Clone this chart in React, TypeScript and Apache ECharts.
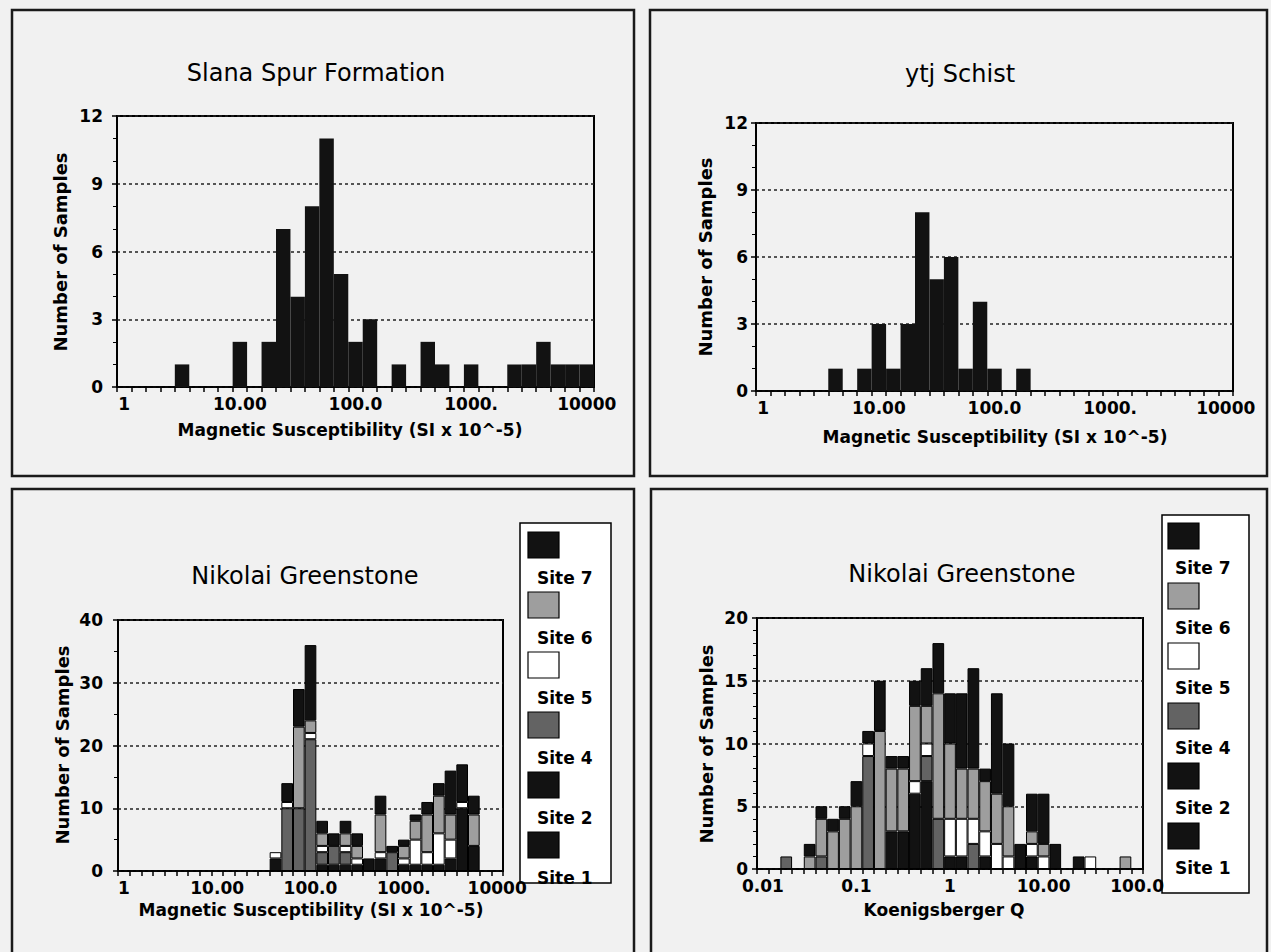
import React, { useEffect, useRef } from 'react';
import * as echarts from 'echarts';

// ---------- data ----------
// 33 histogram bins, 8 per decade (log-spaced), tick labels every 8th bin
const suscTickLabels = ['1', '10.00', '100.0', '1000.', '10000'];
const qTickLabels = ['0.01', '0.1', '1', '10.00', '100.0'];
const BINS_PER_DECADE = 8;
const BIN_COUNT = 33;

const slanaCounts = [0, 0, 0, 0, 1, 0, 0, 0, 2, 0, 2, 7, 4, 8, 11, 5, 2, 3, 0, 1, 0, 2, 1, 0, 1, 0, 0, 1, 1, 2, 1, 1, 1];
const ytjCounts = [0, 0, 0, 0, 0, 1, 0, 1, 3, 1, 3, 8, 5, 6, 1, 4, 1, 0, 1, 0, 0, 0, 0, 0, 0, 0, 0, 0, 0, 0, 0, 0, 0];

const siteNames = ['Site 1', 'Site 2', 'Site 4', 'Site 5', 'Site 6', 'Site 7'];
const siteColors = ['#121212', '#121212', '#636363', '#ffffff', '#9e9e9e', '#121212'];

// Nikolai Greenstone - magnetic susceptibility, stacked by site
const nikSuscSite1 = [0, 0, 0, 0, 0, 0, 0, 0, 0, 0, 0, 0, 0, 2, 0, 0, 0, 1, 1, 1, 1, 0, 2, 0, 1, 1, 1, 1, 2, 0, 4, 0, 0];
const nikSuscSite2 = [0, 0, 0, 0, 0, 0, 0, 0, 0, 0, 0, 0, 0, 0, 0, 0, 0, 0, 0, 0, 0, 2, 0, 0, 0, 0, 0, 0, 0, 10, 0, 0, 0];
const nikSuscSite4 = [0, 0, 0, 0, 0, 0, 0, 0, 0, 0, 0, 0, 0, 0, 10, 10, 21, 2, 3, 2, 0, 0, 0, 3, 0, 0, 0, 0, 0, 0, 0, 0, 0];
const nikSuscSite5 = [0, 0, 0, 0, 0, 0, 0, 0, 0, 0, 0, 0, 0, 1, 1, 0, 1, 1, 0, 1, 1, 0, 1, 0, 1, 4, 2, 5, 3, 1, 0, 0, 0];
const nikSuscSite6 = [0, 0, 0, 0, 0, 0, 0, 0, 0, 0, 0, 0, 0, 0, 0, 13, 2, 2, 0, 2, 2, 0, 6, 0, 2, 3, 6, 6, 4, 0, 5, 0, 0];
const nikSuscSite7 = [0, 0, 0, 0, 0, 0, 0, 0, 0, 0, 0, 0, 0, 0, 3, 6, 12, 2, 2, 2, 2, 0, 3, 1, 1, 1, 2, 2, 7, 6, 3, 0, 0];

// Nikolai Greenstone - Koenigsberger Q, stacked by site
const nikQSite1 = [0, 0, 0, 0, 0, 0, 0, 0, 0, 0, 0, 3, 3, 6, 7, 0, 1, 1, 0, 1, 0, 0, 0, 1, 0, 0, 0, 1, 0, 0, 0, 0, 0];
const nikQSite2 = [0, 0, 0, 0, 0, 0, 0, 0, 0, 0, 0, 0, 0, 0, 0, 0, 0, 0, 0, 0, 0, 0, 2, 0, 0, 2, 0, 0, 0, 0, 0, 0, 0];
const nikQSite4 = [0, 0, 1, 0, 0, 1, 0, 0, 0, 9, 0, 0, 0, 0, 2, 4, 0, 0, 2, 0, 0, 0, 0, 0, 0, 0, 0, 0, 0, 0, 0, 0, 0];
const nikQSite5 = [0, 0, 0, 0, 0, 0, 0, 0, 0, 1, 0, 0, 0, 1, 1, 0, 3, 3, 2, 2, 2, 1, 0, 1, 1, 0, 0, 0, 1, 0, 0, 0, 0];
const nikQSite6 = [0, 0, 0, 0, 1, 3, 3, 4, 5, 0, 11, 5, 5, 6, 3, 10, 6, 4, 4, 4, 4, 4, 0, 1, 1, 0, 0, 0, 0, 0, 0, 1, 0];
const nikQSite7 = [0, 0, 0, 0, 1, 1, 1, 1, 2, 1, 4, 1, 1, 2, 3, 4, 4, 6, 8, 1, 8, 5, 0, 3, 4, 0, 0, 0, 0, 0, 0, 0, 0];

const nikSuscSites = [nikSuscSite1, nikSuscSite2, nikSuscSite4, nikSuscSite5, nikSuscSite6, nikSuscSite7];
const nikQSites = [nikQSite1, nikQSite2, nikQSite4, nikQSite5, nikQSite6, nikQSite7];

const titles = ['Slana Spur Formation', 'ytj Schist', 'Nikolai Greenstone', 'Nikolai Greenstone'];
const xNames = [
  'Magnetic Susceptibility (SI x 10^-5)',
  'Magnetic Susceptibility (SI x 10^-5)',
  'Magnetic Susceptibility (SI x 10^-5)',
  'Koenigsberger Q',
];
const yName = 'Number of Samples';

// ---------- helpers ----------
const FONT = '"DejaVu Sans", "Liberation Sans", Arial, sans-serif';

function binCategories(ticks: string[]): string[] {
  return Array.from({ length: BIN_COUNT }, (_, i) =>
    i % BINS_PER_DECADE === 0 ? ticks[i / BINS_PER_DECADE] : 'bin' + i
  );
}

function xAxis(gridIndex: number, ticks: string[]) {
  return {
    type: 'category',
    gridIndex,
    data: binCategories(ticks),
    boundaryGap: true,
    axisLine: { lineStyle: { color: '#000', width: 1.5 } },
    axisTick: { show: true, interval: 0, length: 5, lineStyle: { color: '#000', width: 1.5 } },
    axisLabel: {
      interval: BINS_PER_DECADE - 1,
      margin: 8,
      color: '#000',
      fontFamily: FONT,
      fontWeight: 'bold',
      fontSize: 17,
    },
    splitLine: { show: false },
  };
}

function yAxis(gridIndex: number, max: number, interval: number, minorSplit: number, margin: number) {
  return {
    type: 'value',
    gridIndex,
    min: 0,
    max,
    interval,
    axisLine: { show: true, lineStyle: { color: '#000', width: 1.5 } },
    axisTick: { show: true, length: 5, lineStyle: { color: '#000', width: 1.5 } },
    minorTick: { show: true, splitNumber: minorSplit, length: 4, lineStyle: { color: '#000', width: 1 } },
    axisLabel: { margin, color: '#000', fontFamily: FONT, fontWeight: 'bold', fontSize: 17 },
    splitLine: { show: true, lineStyle: { color: '#222', type: [3, 3], width: 1.5 } },
  };
}

function text(t: string, x: number, y: number, font: string, rotation = 0) {
  return {
    type: 'text',
    x,
    y,
    rotation,
    style: { text: t, fill: '#000', font, textAlign: 'center', textVerticalAlign: 'middle' },
  };
}

function panel(x: number, y: number, w: number, h: number) {
  return {
    type: 'rect',
    shape: { x, y, width: w, height: h },
    style: { fill: 'none', stroke: '#1a1a1a', lineWidth: 2.5 },
    silent: true,
  };
}

function legendBox(x: number, y: number, w: number, h: number, iconX: number, iconY: number, textX: number, textY: number) {
  const els: any[] = [
    { type: 'rect', shape: { x, y, width: w, height: h }, style: { fill: '#fff', stroke: '#000', lineWidth: 1.5 } },
  ];
  // top to bottom: reversed site order
  const order = [5, 4, 3, 2, 1, 0];
  order.forEach((si, k) => {
    els.push({
      type: 'rect',
      shape: { x: iconX, y: iconY + k * 60, width: 31, height: 26 },
      style: { fill: siteColors[si], stroke: '#000', lineWidth: 1.2 },
    });
    els.push({
      type: 'text',
      x: textX,
      y: textY + k * 60,
      style: {
        text: siteNames[si],
        fill: '#000',
        font: 'bold 17px ' + FONT,
        textAlign: 'left',
        textVerticalAlign: 'middle',
      },
    });
  });
  return els;
}

function stackedSeries(sites: number[][], axisIndex: number, stack: string) {
  return sites.map((arr, i) => ({
    type: 'bar',
    name: siteNames[i],
    xAxisIndex: axisIndex,
    yAxisIndex: axisIndex,
    stack,
    barCategoryGap: '0%',
    data: arr.map((v) => (v === 0 ? '-' : v)),
    itemStyle: { color: siteColors[i], borderColor: '#000', borderWidth: 1 },
  }));
}

export default function App() {
  const ref = useRef<HTMLDivElement>(null);

  useEffect(() => {
    if (!ref.current) return;
    const chart = echarts.init(ref.current, undefined, { renderer: 'svg' });

    const titleFont = '24px ' + FONT;
    const nameFont = 'bold 17px ' + FONT;
    const yNameFont = 'bold 18px ' + FONT;

    const option: any = {
      animation: false,
      backgroundColor: '#f1f1f1',
      grid: [
        { left: 117, top: 116, width: 477, height: 271, show: true, borderColor: '#000', borderWidth: 2 },
        { left: 756, top: 123, width: 477, height: 268, show: true, borderColor: '#000', borderWidth: 2 },
        { left: 118, top: 620, width: 385, height: 251, show: true, borderColor: '#000', borderWidth: 2 },
        { left: 757, top: 618, width: 386, height: 251, show: true, borderColor: '#000', borderWidth: 2 },
      ],
      xAxis: [
        xAxis(0, suscTickLabels),
        xAxis(1, suscTickLabels),
        xAxis(2, suscTickLabels),
        xAxis(3, qTickLabels),
      ],
      yAxis: [
        yAxis(0, 12, 3, 3, 14),
        yAxis(1, 12, 3, 3, 8),
        yAxis(2, 40, 10, 2, 15),
        yAxis(3, 20, 5, 5, 9),
      ],
      series: [
        {
          type: 'bar',
          name: titles[0],
          xAxisIndex: 0,
          yAxisIndex: 0,
          barCategoryGap: '0%',
          data: slanaCounts,
          itemStyle: { color: '#121212' },
        },
        {
          type: 'bar',
          name: titles[1],
          xAxisIndex: 1,
          yAxisIndex: 1,
          barCategoryGap: '0%',
          data: ytjCounts,
          itemStyle: { color: '#121212' },
        },
        ...stackedSeries(nikSuscSites, 2, 'susc'),
        ...stackedSeries(nikQSites, 3, 'q'),
      ],
      graphic: [
        panel(12, 10, 622, 466),
        panel(650, 10, 617, 466),
        panel(12, 489, 622, 470),
        panel(651, 489, 616, 470),
        text(titles[0], 316, 73, titleFont),
        text(titles[1], 960, 74, titleFont),
        text(titles[2], 305, 576, titleFont),
        text(titles[3], 962, 574, titleFont),
        text(xNames[0], 350, 430, nameFont),
        text(xNames[1], 995, 437, nameFont),
        text(xNames[2], 311, 910, nameFont),
        text(xNames[3], 944, 910, nameFont),
        text(yName, 60, 252, yNameFont, Math.PI / 2),
        text(yName, 705, 257, yNameFont, Math.PI / 2),
        text(yName, 62, 745, yNameFont, Math.PI / 2),
        text(yName, 706, 744, yNameFont, Math.PI / 2),
        ...legendBox(520, 523, 91, 360, 528, 532, 537, 578),
        ...legendBox(1162, 515, 87, 378, 1168, 523, 1175, 568),
      ],
    };

    chart.setOption(option);
    return () => chart.dispose();
  }, []);

  return (
    <div
      ref={ref}
      style={{ position: 'absolute', left: 0, top: 0, width: 1271, height: 952 }}
    />
  );
}
